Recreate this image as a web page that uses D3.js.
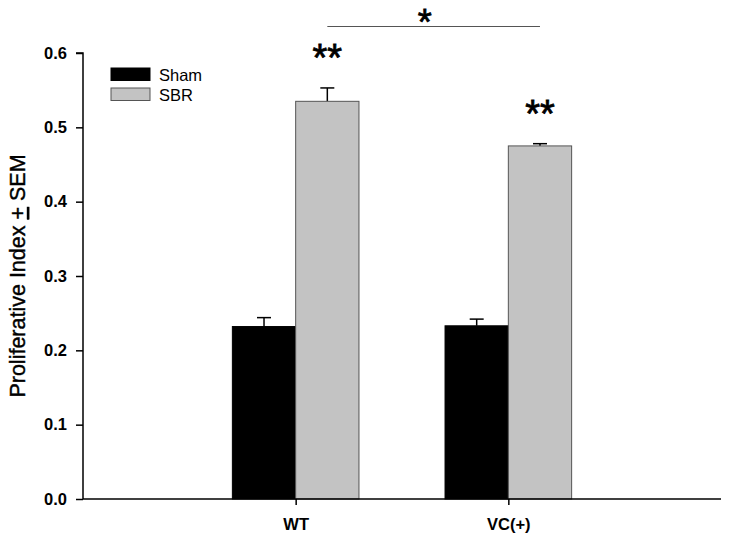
<!DOCTYPE html>
<html><head><meta charset="utf-8">
<script src="https://cdn.jsdelivr.net/npm/d3@7"></script>
<style>body{margin:0;background:#fff}svg{display:block}text{font-family:Arial,"Liberation Sans",sans-serif}</style>
</head><body>
<script>
const categories = ["WT", "VC(+)"];
const seriesNames = ["Sham", "SBR"];
const shamValues = [0.232, 0.233];
const shamErrors = [0.012, 0.009];
const sbrValues = [0.535, 0.475];
const sbrErrors = [0.018, 0.003];
const yTicks = [0.0, 0.1, 0.2, 0.3, 0.4, 0.5, 0.6];
const sbrMarks = ["**", "**"];
const groupMark = "*";

const W = 729, H = 541;
const svg = d3.select("body").append("svg").attr("width", W).attr("height", H);
const pLeft = 83, pRight = 721, pTop = 53, pBottom = 499;
const y = d3.scaleLinear().domain([0, 0.6]).range([pBottom, pTop]);
const x = d3.scalePoint().domain(categories).range([pLeft, pRight]).padding(1);
const barW = 63.3;
const colors = ["#000000", "#c3c3c3"];
const strokes = ["#000000", "#555555"];

const series = [
  {name: seriesNames[0], vals: shamValues, errs: shamErrors, off: -1},
  {name: seriesNames[1], vals: sbrValues, errs: sbrErrors, off: 0}
];

series.forEach((s, si) => {
  const g = svg.append("g");
  categories.forEach((c, i) => {
    const x0 = x(c) + s.off * barW;
    const cx = x0 + barW / 2;
    const yt = y(s.vals[i]), ye = y(s.vals[i] + s.errs[i]);
    g.append("line").attr("x1", cx).attr("x2", cx).attr("y1", yt).attr("y2", ye)
      .attr("stroke", "#000").attr("stroke-width", 1.5);
    g.append("line").attr("x1", cx - 7).attr("x2", cx + 7).attr("y1", ye).attr("y2", ye)
      .attr("stroke", "#000").attr("stroke-width", 1.5);
    g.append("rect").attr("x", x0).attr("y", yt).attr("width", barW).attr("height", pBottom - yt)
      .attr("fill", colors[si]).attr("stroke", strokes[si]).attr("stroke-width", 1);
  });
});

// axes
const yAxis = d3.axisLeft(y).tickValues(yTicks).tickFormat(d3.format(".1f")).tickSize(7).tickPadding(9);
const gy = svg.append("g").attr("transform", `translate(${pLeft},0)`).call(yAxis);
gy.select(".domain").attr("stroke", "#000").attr("stroke-width", 1.5).attr("d", `M-7,${pTop}H0V${pBottom}`);
gy.selectAll(".tick line").attr("stroke", "#000").attr("stroke-width", 1.5);
gy.selectAll("text").attr("font-size", 16.5).attr("font-weight", "bold").attr("fill", "#000")
  .style("font-family", "Arial, 'Liberation Sans', sans-serif");

const xAxis = d3.axisBottom(x).tickSize(6).tickPadding(13);
const gx = svg.append("g").attr("transform", `translate(0,${pBottom})`).call(xAxis);
gx.select(".domain").attr("stroke", "#000").attr("stroke-width", 1.5).attr("d", `M${pLeft},0H${pRight}`);
gx.selectAll(".tick line").attr("stroke", "#000").attr("stroke-width", 1.5);
gx.selectAll("text").attr("font-size", 16.5).attr("font-weight", "bold").attr("fill", "#000")
  .style("font-family", "Arial, 'Liberation Sans', sans-serif");

// y title
const t = svg.append("text").attr("transform", `translate(25,${276}) rotate(-90)`)
  .attr("text-anchor", "middle").attr("font-size", 21.5).attr("font-weight", "normal").attr("fill", "#000")
  .attr("stroke", "#000").attr("stroke-width", 0.4);
t.append("tspan").text("Proliferative Index ");
t.append("tspan").text("+").style("text-decoration", "underline");
t.append("tspan").text(" SEM");

// legend
const lg = svg.append("g");
seriesNames.forEach((n, i) => {
  lg.append("rect").attr("x", 111).attr("y", 68 + i * 20).attr("width", 39).attr("height", 12.5)
    .attr("fill", colors[i]).attr("stroke", strokes[i]).attr("stroke-width", 1);
  lg.append("text").attr("x", 159).attr("y", 80.5 + i * 20).attr("font-size", 16.5).attr("fill", "#000").text(n);
});

// significance marks
categories.forEach((c, i) => {
  const cx = x(c) + barW / 2;
  svg.append("text").attr("x", cx).attr("y", y(sbrValues[i] + sbrErrors[i]) - 17)
    .attr("text-anchor", "middle").attr("font-size", 38).attr("fill", "#000")
    .attr("stroke", "#000").attr("stroke-width", 0.8).text(sbrMarks[i]);
});
const lx1 = x(categories[0]) + barW / 2, lx2 = x(categories[1]) + barW / 2;
svg.append("line").attr("x1", lx1).attr("x2", lx2).attr("y1", 26.5).attr("y2", 26.5)
  .attr("stroke", "#555").attr("stroke-width", 1.2);
svg.append("text").attr("x", (lx1 + lx2) / 2 - 9).attr("y", 35).attr("text-anchor", "middle")
  .attr("font-size", 36).attr("fill", "#000").attr("stroke", "#000").attr("stroke-width", 0.8).text(groupMark);
</script>
</body></html>
